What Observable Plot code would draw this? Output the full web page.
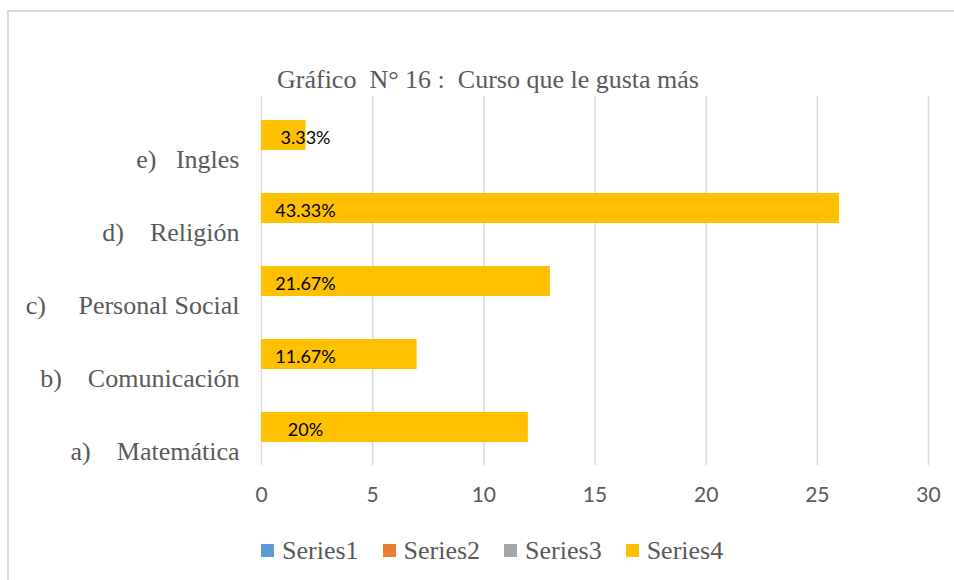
<!DOCTYPE html>
<html>
<head>
<meta charset="utf-8">
<script src="https://cdn.jsdelivr.net/npm/d3@7"></script>
<script src="https://cdn.jsdelivr.net/npm/@observablehq/plot@0.6"></script>
<style>
  html, body { margin: 0; padding: 0; background: #fff; overflow: hidden; }
  #wrap { position: relative; width: 954px; height: 580px; overflow: hidden; }
  #frame { position: absolute; left: 7px; top: 10px; width: 1000px; height: 620px; border: 2px solid #d9d9d9; box-sizing: border-box; }
  #title { position: absolute; left: 0; top: 67px; width: 976px; text-align: center; font-family: "Liberation Serif", serif; font-size: 26px; line-height: 26px; color: #595959; white-space: pre; }
  #chart { position: absolute; left: 0; top: 0; }
  #legend { position: absolute; left: 261px; top: 534px; }
  #legend, #legend * { font-family: "Liberation Serif", serif !important; font-size: 26px !important; line-height: 26px !important; color: #595959 !important; }
  #legend svg { margin-right: 8px !important; }
  #legend span { margin-right: 24px !important; }
</style>
</head>
<body>
<div id="wrap">
  <div id="frame"></div>
  <div id="chart"></div>
  <div id="title"></div>
  <div id="legend"></div>
</div>
<script>
const titleText = "Gráfico  N° 16 :  Curso que le gusta más";
const categories = [
  "a)\u00a0\u00a0\u00a0\u00a0Matemática",
  "b)\u00a0\u00a0\u00a0\u00a0Comunicación",
  "c)\u00a0\u00a0\u00a0\u00a0\u00a0Personal Social",
  "d)\u00a0\u00a0\u00a0\u00a0Religión",
  "e)\u00a0\u00a0\u00a0Ingles"
];
const values = [12, 7, 13, 26, 2];
const percentLabels = ["20%", "11.67%", "21.67%", "43.33%", "3.33%"];
const xTicks = [0, 5, 10, 15, 20, 25, 30];
const seriesNames = ["Series1", "Series2", "Series3", "Series4"];
const seriesColors = ["#5B9BD5", "#ED7D31", "#A5A5A5", "#FFC000"];

const data = categories.map((c, i) => ({category: c, value: values[i], label: percentLabels[i], series: "Series4"}));

document.getElementById("title").textContent = titleText;

const chart = Plot.plot({
  width: 954,
  height: 520,
  marginLeft: 261,
  marginRight: 26,
  marginTop: 96,
  marginBottom: 55,
  style: {background: "transparent", color: "#595959", overflow: "visible", fontFamily: "Liberation Serif, serif", fontSize: "26px"},
  x: {domain: [0, 30], ticks: xTicks},
  y: {domain: categories.slice().reverse(), paddingInner: 0.59, paddingOuter: 0.295},
  color: {domain: seriesNames, range: seriesColors},
  marks: [
    Plot.gridX(xTicks, {stroke: "#d9d9d9", strokeOpacity: 1, strokeWidth: 1.5}),
    Plot.barX(data, {y: "category", x: "value", fill: "series"}),
    Plot.text(data, {y: "category", x: () => 0, text: "label", textAnchor: "middle", dx: 44, dy: 3, fill: "#000", fontFamily: "Lato, sans-serif", fontSize: 18}),
    Plot.axisX(xTicks, {tickSize: 0, tickPadding: 22, fontFamily: "Lato, sans-serif", fontSize: 21, label: null}),
    Plot.axisY({tickSize: 0, tickPadding: 22, fontFamily: "Liberation Serif, serif", fontSize: 26, dy: 24, label: null})
  ]
});
document.getElementById("chart").appendChild(chart);

const legend = Plot.legend({
  color: {type: "ordinal", domain: seriesNames, range: seriesColors},
  swatchSize: 13
});
document.getElementById("legend").appendChild(legend);
</script>
</body>
</html>
